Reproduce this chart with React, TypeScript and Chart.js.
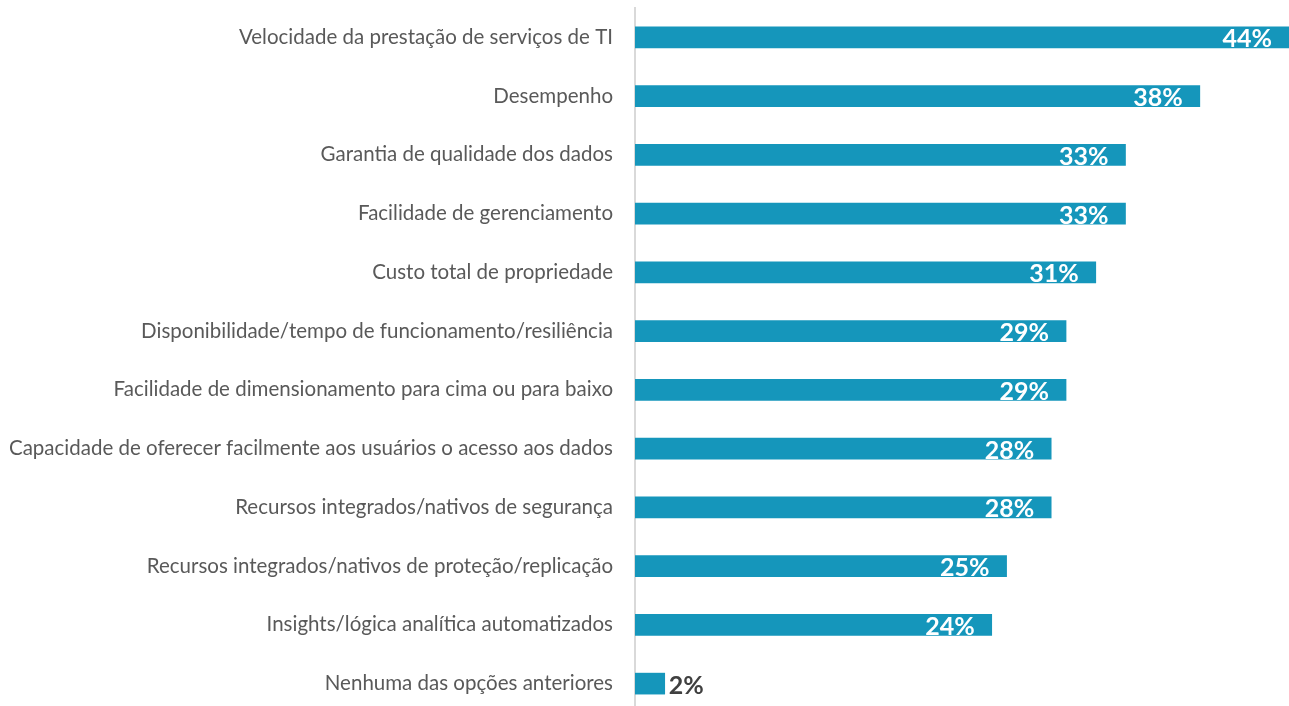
import React, { useEffect, useRef } from "react";
import { Chart, registerables } from "chart.js";

Chart.register(...registerables);

const categories = [
  "Velocidade da prestação de serviços de TI",
  "Desempenho",
  "Garantia de qualidade dos dados",
  "Facilidade de gerenciamento",
  "Custo total de propriedade",
  "Disponibilidade/tempo de funcionamento/resiliência",
  "Facilidade de dimensionamento para cima ou para baixo",
  "Capacidade de oferecer facilmente aos usuários o acesso aos dados",
  "Recursos integrados/nativos de segurança",
  "Recursos integrados/nativos de proteção/replicação",
  "Insights/lógica analítica automatizados",
  "Nenhuma das opções anteriores",
];

const values = [44, 38, 33, 33, 31, 29, 29, 28, 28, 25, 24, 2];

const FONT = "Lato";

const labelPlugin = {
  id: "barLabels",
  afterDatasetsDraw(chart: any) {
    const ctx = chart.ctx;
    const meta = chart.getDatasetMeta(0);
    ctx.save();
    ctx.font = `bold 25px ${FONT}`;
    ctx.textBaseline = "middle";
    meta.data.forEach((bar: any, i: number) => {
      const v = values[i];
      const text = `${v}%`;
      const w = ctx.measureText(text).width;
      const barW = bar.x - bar.base;
      if (barW > w + 24) {
        ctx.fillStyle = "#ffffff";
        ctx.textAlign = "right";
        ctx.fillText(text, bar.x - 17, bar.y + 2);
      } else {
        ctx.fillStyle = "#404040";
        ctx.textAlign = "left";
        ctx.fillText(text, bar.x + 4, bar.y + 2);
      }
    });
    ctx.restore();
  },
};

export default function App() {
  const ref = useRef<HTMLCanvasElement>(null);
  useEffect(() => {
    document.body.style.margin = "0";
    const chart = new Chart(ref.current!, {
      type: "bar",
      data: {
        labels: categories,
        datasets: [
          {
            data: values,
            backgroundColor: "#1596BB",
            barThickness: 21,
          },
        ],
      },
      options: {
        indexAxis: "y",
        animation: false,
        responsive: false,
        maintainAspectRatio: false,
        layout: { padding: { top: 8, right: 0, bottom: 0, left: 0 } },
        plugins: { legend: { display: false }, tooltip: { enabled: false } },
        scales: {
          x: {
            min: 0,
            max: 44,
            display: false,
          },
          y: {
            grid: { display: false, drawTicks: false },
            border: { display: true, color: "#d9d9d9", width: 2 },
            ticks: {
              color: "#595959",
              font: { family: FONT, size: 20.5 },
              padding: 22,
            },
            afterFit: (scale: any) => {
              scale.width = 635;
              scale.paddingTop = 0;
              scale.paddingBottom = 0;
            },
          },
        },
      },
      plugins: [labelPlugin],
    });
    return () => chart.destroy();
  }, []);
  return (
    <div style={{ width: 1289, height: 706, overflow: "hidden" }}>
      <canvas ref={ref} width={1289} height={713} style={{ display: "block" }} />
    </div>
  );
}
